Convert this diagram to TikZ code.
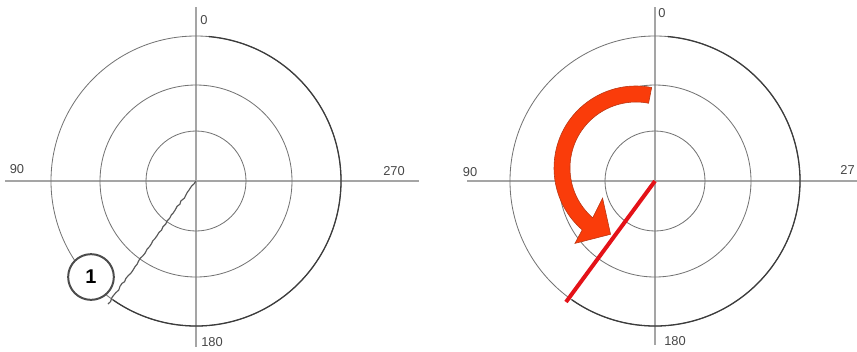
\documentclass[tikz,border=0pt]{standalone}
\usepackage{fontspec}
\setmainfont{Liberation Sans}
\usepackage{tikz}
\usetikzlibrary{calc, decorations.pathmorphing}
\usepackage{xcolor}
\definecolor{axisGray}{RGB}{165,165,165}
\definecolor{ringGray}{RGB}{115,115,115}
\definecolor{rimDark}{RGB}{60,60,60}
\definecolor{turnRed}{RGB}{250,60,10}
\definecolor{turnEdge}{RGB}{185,55,20}
\definecolor{cutRed}{RGB}{228,18,24}

\begin{document}
\begin{tikzpicture}[
    x=0.03cm, y=-0.03cm,
    every node/.style={font=\fontsize{11}{13}\selectfont, text=black!72, inner sep=0pt},
    axis/.style={axisGray, line width=0.9pt},
    ring/.style={ringGray, line width=0.7pt},
    rim/.style={rimDark, line width=1.1pt},
    marker/.style={circle, draw=black!70, line width=1.7pt, minimum size=39pt, fill=white, text=black, font=\bfseries\fontsize{17}{17}\selectfont}
]
\useasboundingbox (0,0) rectangle (857,351);

% Centres of both dials
\coordinate (lc) at (196,181);
\coordinate (rc) at (655,181);

% Axes
\draw[axis] (5,181) -- (419,181);
\draw[axis] (196,7) -- (196,347);
\draw[axis] (467,181) -- (857,181);
\draw[axis] (655,7) -- (655,345);

% Rings
\foreach \c in {lc, rc} {
  \foreach \r in {50,96,145}
    \draw[ring] (\c) circle (\r);
  \draw[rim] ($(\c)+(-85:145)$) arc[start angle=-85, end angle=125, radius=145];
}

% Degree labels
\node (l0) at (204,20) {0};
\node (l90) at (17,169) {90};
\node (l270) at (394,171) {270};
\node (l180) at (212,342) {180};
\node (r0) at (662,13) {0};
\node (r90) at (470,172) {90};
\node[anchor=east] (r27) at (855,170) {27};
\node (r180) at (675,341) {180};

% Left dial: rough line with marker
\coordinate (lend) at (108,304);
\draw[black!65, line width=1pt, decorate, decoration={random steps, segment length=3pt, amplitude=0.6pt}] (lc) -- (lend);
\node[marker] (mark) at (91,277) {1};

% Right dial: turn arrow and red line
\coordinate (tc) at (636,168);
\filldraw[fill=turnRed, draw=turnEdge, line width=0.5pt]
  ($(tc)+(281:82)$) arc[start angle=281, end angle=131, radius=82]
  -- ($(tc)+(129:97)$) -- ($(tc)+(111:71)$) -- ($(tc)+(138:45)$)
  -- ($(tc)+(131:66)$) arc[start angle=131, end angle=281, radius=66] -- cycle;
\coordinate (rend) at (566,302);
\draw[cutRed, line width=3.4pt] (rc) -- (rend);

\end{tikzpicture}
\end{document}
